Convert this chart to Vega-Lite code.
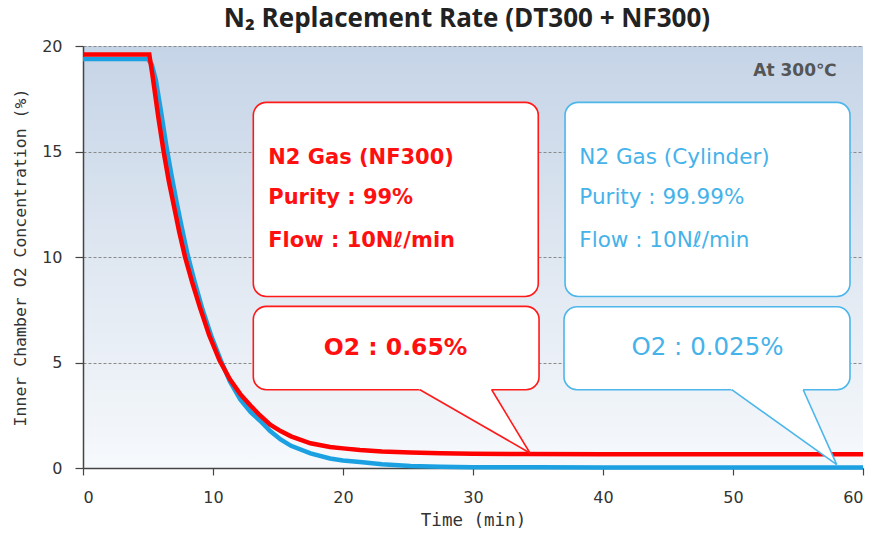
{
  "$schema": "https://vega.github.io/schema/vega-lite/v6.json",
  "width": 780,
  "height": 422,
  "autosize": "none",
  "padding": {"left": 83, "top": 46, "right": 14, "bottom": 66},
  "background": "#ffffff",
  "title": {"text": "N₂ Replacement Rate (DT300 + NF300)", "font": "Open Sans", "fontSize": 26, "fontWeight": "bold", "color": "#222222", "offset": 6, "dx": -6},
  "config": {
    "view": {"stroke": null, "fill": {"gradient": "linear", "x1": 0, "y1": 1, "x2": 0, "y2": 0, "stops": [{"offset": 0, "color": "#f6f9fc"}, {"offset": 0.5, "color": "#dfe7f1"}, {"offset": 1, "color": "#c5d4e7"}]}},
    "axis": {"labelFont": "DejaVu Sans", "labelFontSize": 16, "labelColor": "#333333", "domainColor": "#444444", "domainWidth": 1.5, "tickColor": "#444444", "tickWidth": 1.2, "titleFont": "DejaVu Sans Mono", "titleFontSize": 16.5, "titleFontWeight": "normal", "titleColor": "#333333"}
  },
  "datasets": {
    "red": [
      {"t": 0, "v": 19.6}, {"t": 5.1, "v": 19.6}, {"t": 5.35, "v": 18.6}, {"t": 5.8, "v": 16.6}, {"t": 6.2, "v": 15.0},
      {"t": 6.6, "v": 13.6}, {"t": 7.0, "v": 12.4}, {"t": 7.4, "v": 11.2}, {"t": 7.85, "v": 10.0}, {"t": 8.4, "v": 8.8},
      {"t": 9.0, "v": 7.6}, {"t": 9.7, "v": 6.3}, {"t": 10.5, "v": 5.1}, {"t": 11.3, "v": 4.2}, {"t": 12.1, "v": 3.5},
      {"t": 12.9, "v": 2.95}, {"t": 13.6, "v": 2.5}, {"t": 14.4, "v": 2.05}, {"t": 15.2, "v": 1.75}, {"t": 16.0, "v": 1.5},
      {"t": 17.5, "v": 1.17}, {"t": 19.0, "v": 1.0}, {"t": 20.0, "v": 0.93}, {"t": 21.3, "v": 0.85}, {"t": 23.0, "v": 0.78},
      {"t": 25.2, "v": 0.73}, {"t": 27.5, "v": 0.7}, {"t": 30, "v": 0.68}, {"t": 34, "v": 0.66}, {"t": 40, "v": 0.65},
      {"t": 50, "v": 0.65}, {"t": 60, "v": 0.65}
    ],
    "blue": [
      {"t": 0, "v": 19.38}, {"t": 5.0, "v": 19.38}, {"t": 5.3, "v": 19.1}, {"t": 5.6, "v": 18.4}, {"t": 6.0, "v": 16.9},
      {"t": 6.4, "v": 15.3}, {"t": 6.8, "v": 13.9}, {"t": 7.2, "v": 12.6}, {"t": 7.6, "v": 11.4}, {"t": 8.05, "v": 10.1},
      {"t": 8.6, "v": 8.8}, {"t": 9.2, "v": 7.5}, {"t": 9.9, "v": 6.2}, {"t": 10.6, "v": 5.1}, {"t": 11.3, "v": 4.1},
      {"t": 12.1, "v": 3.25}, {"t": 12.9, "v": 2.65}, {"t": 13.6, "v": 2.25}, {"t": 14.4, "v": 1.75}, {"t": 15.2, "v": 1.35},
      {"t": 16.0, "v": 1.05}, {"t": 17.5, "v": 0.69}, {"t": 19.0, "v": 0.45}, {"t": 20.0, "v": 0.36}, {"t": 21.3, "v": 0.28},
      {"t": 23.0, "v": 0.18}, {"t": 25.2, "v": 0.1}, {"t": 27.5, "v": 0.06}, {"t": 30, "v": 0.04}, {"t": 35, "v": 0.03},
      {"t": 40, "v": 0.025}, {"t": 50, "v": 0.025}, {"t": 60, "v": 0.025}
    ],
    "redBoxes": [
      {"t": 13.1, "t2": 35.02, "v": 17.33, "v2": 8.13},
      {"t": 13.1, "t2": 35.08, "v": 7.66, "v2": 3.71}
    ],
    "blueBoxes": [
      {"t": 37.08, "t2": 59.0, "v": 17.33, "v2": 8.13},
      {"t": 37.0, "t2": 59.0, "v": 7.64, "v2": 3.71}
    ],
    "redPointer": [
      {"t": 25.24, "v": 3.95, "v2": 3.95},
      {"t": 31.2, "v": 3.95, "v2": 1.84},
      {"t": 34.38, "v": 0.71, "v2": 0.71}
    ],
    "bluePointer": [
      {"t": 49.35, "v": 3.95, "v2": 3.95},
      {"t": 55.23, "v": 3.95, "v2": 1.37},
      {"t": 57.98, "v": 0.16, "v2": 0.16}
    ],
    "redEdges": [
      {"t": 25.92, "v": 3.71, "t2": 34.38, "v2": 0.71},
      {"t": 31.44, "v": 3.71, "t2": 34.38, "v2": 0.71}
    ],
    "blueEdges": [
      {"t": 49.9, "v": 3.71, "t2": 57.98, "v2": 0.16},
      {"t": 55.4, "v": 3.71, "t2": 57.98, "v2": 0.16}
    ],
    "redInfo": [
      {"t": 14.25, "v": 14.71, "label": "N2 Gas (NF300)"},
      {"t": 14.25, "v": 12.81, "label": "Purity : 99%"},
      {"t": 14.25, "v": 10.74, "label": "Flow : 10Nℓ/min"}
    ],
    "blueInfo": [
      {"t": 38.18, "v": 14.71, "label": "N2 Gas (Cylinder)"},
      {"t": 38.18, "v": 12.81, "label": "Purity : 99.99%"},
      {"t": 38.18, "v": 10.74, "label": "Flow : 10Nℓ/min"}
    ],
    "redResult": [{"t": 24.04, "v": 5.69, "label": "O2 : 0.65%"}],
    "blueResult": [{"t": 48.04, "v": 5.69, "label": "O2 : 0.025%"}],
    "temp": [{"t": 57.97, "v": 18.8, "label": "At 300℃"}]
  },
  "layer": [
    {
      "data": {"name": "blue"},
      "mark": {"type": "line", "color": "#1ba1e2", "strokeWidth": 4.5},
      "encoding": {
        "x": {"field": "t", "type": "quantitative", "scale": {"domain": [0, 60], "nice": false, "zero": false},
              "axis": {"title": "Time (min)", "values": [0, 10, 20, 30, 40, 50, 60], "grid": false, "tickSize": 7, "labelPadding": 14, "titlePadding": 6, "titleFontSize": 17.5}},
        "y": {"field": "v", "type": "quantitative", "scale": {"domain": [0, 20], "nice": false, "zero": false},
              "axis": {"title": "Inner Chamber O2 Concentration (%)", "values": [0, 5, 10, 15, 20], "grid": true, "gridDash": [3, 2], "gridColor": "#8a8a8a", "gridWidth": 1, "tickSize": 8, "labelPadding": 13, "titlePadding": 13}}
      }
    },
    {
      "data": {"name": "red"},
      "mark": {"type": "line", "color": "#ff0000", "strokeWidth": 4.5},
      "encoding": {
        "x": {"field": "t", "type": "quantitative"},
        "y": {"field": "v", "type": "quantitative"}
      }
    },
    {
      "data": {"name": "redBoxes"},
      "mark": {"type": "rect", "fill": "#ffffff", "stroke": "#ff1a1a", "strokeWidth": 1.6, "cornerRadius": 13},
      "encoding": {
        "x": {"field": "t", "type": "quantitative"}, "x2": {"field": "t2"},
        "y": {"field": "v", "type": "quantitative"}, "y2": {"field": "v2"}
      }
    },
    {
      "data": {"name": "blueBoxes"},
      "mark": {"type": "rect", "fill": "#ffffff", "stroke": "#4db6ea", "strokeWidth": 1.6, "cornerRadius": 13},
      "encoding": {
        "x": {"field": "t", "type": "quantitative"}, "x2": {"field": "t2"},
        "y": {"field": "v", "type": "quantitative"}, "y2": {"field": "v2"}
      }
    },
    {
      "data": {"name": "redPointer"},
      "mark": {"type": "area", "fill": "#ffffff", "opacity": 1},
      "encoding": {
        "x": {"field": "t", "type": "quantitative"},
        "y": {"field": "v", "type": "quantitative"}, "y2": {"field": "v2"}
      }
    },
    {
      "data": {"name": "bluePointer"},
      "mark": {"type": "area", "fill": "#ffffff", "opacity": 1},
      "encoding": {
        "x": {"field": "t", "type": "quantitative"},
        "y": {"field": "v", "type": "quantitative"}, "y2": {"field": "v2"}
      }
    },
    {
      "data": {"name": "redEdges"},
      "mark": {"type": "rule", "color": "#ff1a1a", "strokeWidth": 1.6},
      "encoding": {
        "x": {"field": "t", "type": "quantitative"}, "x2": {"field": "t2"},
        "y": {"field": "v", "type": "quantitative"}, "y2": {"field": "v2"}
      }
    },
    {
      "data": {"name": "blueEdges"},
      "mark": {"type": "rule", "color": "#4db6ea", "strokeWidth": 1.6},
      "encoding": {
        "x": {"field": "t", "type": "quantitative"}, "x2": {"field": "t2"},
        "y": {"field": "v", "type": "quantitative"}, "y2": {"field": "v2"}
      }
    },
    {
      "data": {"name": "redInfo"},
      "mark": {"type": "text", "align": "left", "baseline": "middle", "font": "DejaVu Sans", "fontSize": 21, "fontWeight": "bold", "color": "#ff1010"},
      "encoding": {
        "x": {"field": "t", "type": "quantitative"},
        "y": {"field": "v", "type": "quantitative"},
        "text": {"field": "label"}
      }
    },
    {
      "data": {"name": "blueInfo"},
      "mark": {"type": "text", "align": "left", "baseline": "middle", "font": "DejaVu Sans", "fontSize": 21.5, "fontWeight": "normal", "color": "#45b3ea"},
      "encoding": {
        "x": {"field": "t", "type": "quantitative"},
        "y": {"field": "v", "type": "quantitative"},
        "text": {"field": "label"}
      }
    },
    {
      "data": {"name": "redResult"},
      "mark": {"type": "text", "align": "center", "baseline": "middle", "font": "DejaVu Sans", "fontSize": 23.5, "fontWeight": "bold", "color": "#ff1010"},
      "encoding": {
        "x": {"field": "t", "type": "quantitative"},
        "y": {"field": "v", "type": "quantitative"},
        "text": {"field": "label"}
      }
    },
    {
      "data": {"name": "blueResult"},
      "mark": {"type": "text", "align": "center", "baseline": "middle", "font": "DejaVu Sans", "fontSize": 24.5, "fontWeight": "normal", "color": "#45b3ea"},
      "encoding": {
        "x": {"field": "t", "type": "quantitative"},
        "y": {"field": "v", "type": "quantitative"},
        "text": {"field": "label"}
      }
    },
    {
      "data": {"name": "temp"},
      "mark": {"type": "text", "align": "right", "baseline": "middle", "font": "DejaVu Sans", "fontSize": 17, "fontWeight": "bold", "color": "#555555"},
      "encoding": {
        "x": {"field": "t", "type": "quantitative"},
        "y": {"field": "v", "type": "quantitative"},
        "text": {"field": "label"}
      }
    }
  ]
}
